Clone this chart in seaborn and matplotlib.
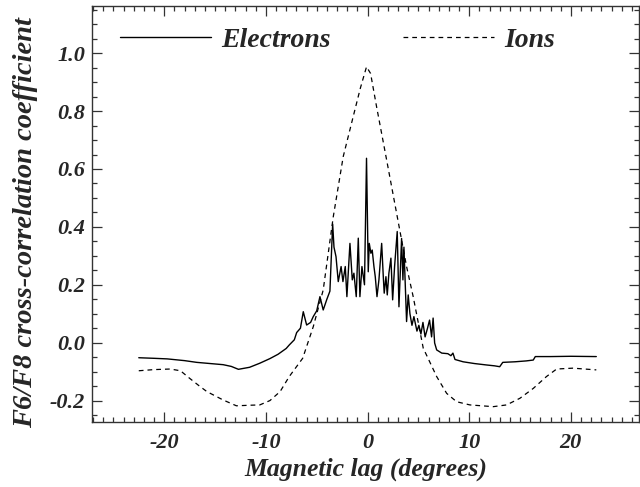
import matplotlib
matplotlib.use("Agg")
import matplotlib.pyplot as plt
import seaborn as sns
import pandas as pd
from matplotlib.ticker import MultipleLocator

# ---- data ----
elec_x = [
    -22.5, -21.0, -19.7, -18.0, -16.8, -15.5, -14.2, -13.4, -12.7, -11.6,
    -10.6, -9.6, -8.8, -8.0, -7.7, -7.2, -6.97, -6.6, -6.32, -5.99,
    -5.6, -5.34, -5.0, -4.68, -4.36, -4.0, -3.7, -3.43, -3.3, -3.1,
    -2.88, -2.6, -2.42, -2.19, -2.03, -1.73, -1.5, -1.34, -1.11, -0.91,
    -0.75, -0.55, -0.3, -0.1, 0.07, 0.17, 0.33, 0.46, 0.63, 0.76,
    0.93, 1.12, 1.39, 1.55, 1.64, 1.81, 1.94, 2.1, 2.3, 2.47,
    2.66, 2.92, 3.09, 3.35, 3.48, 3.58, 3.84, 4.0, 4.17, 4.37,
    4.56, 4.86, 5.05, 5.25, 5.45, 5.66, 5.9, 6.1, 6.3, 6.45,
    6.6, 6.8, 7.3, 7.9, 8.2, 8.4, 8.6, 9.4, 10.5, 11.7,
    12.5, 13.0, 13.3, 14.5, 15.6, 16.3, 16.5, 18.0, 20.0, 22.5]
elec_y = [
    -0.052, -0.054, -0.056, -0.062, -0.068, -0.072, -0.076, -0.082, -0.092, -0.085,
    -0.071, -0.055, -0.040, -0.020, -0.008, 0.010, 0.035, 0.050, 0.107, 0.061,
    0.070, 0.090, 0.110, 0.159, 0.113, 0.150, 0.178, 0.410, 0.330, 0.297,
    0.211, 0.263, 0.211, 0.263, 0.159, 0.343, 0.217, 0.240, 0.159, 0.361,
    0.159, 0.263, 0.200, 0.637, 0.245, 0.343, 0.309, 0.320, 0.263, 0.228,
    0.159, 0.217, 0.343, 0.228, 0.171, 0.228, 0.165, 0.240, 0.292, 0.148,
    0.263, 0.384, 0.124, 0.360, 0.217, 0.330, 0.073, 0.165, 0.100, 0.060,
    0.090, 0.040, 0.060, 0.030, 0.070, 0.020, 0.050, 0.078, 0.020, 0.085,
    -0.001, -0.025, -0.036, -0.038, -0.045, -0.036, -0.058, -0.066, -0.072, -0.077,
    -0.080, -0.083, -0.068, -0.066, -0.063, -0.060, -0.048, -0.048, -0.047, -0.048]

ion_x = [
    -22.5, -21.0, -19.4, -18.4, -17.5, -16.6, -15.8, -14.2, -12.9, -11.5,
    -10.6, -9.6, -8.6, -7.7, -6.38, -5.34, -4.36, -3.37, -2.39, -1.41,
    -0.7, -0.1, 0.3, 0.89, 1.88, 2.86, 3.84, 4.49, 5.48, 6.8,
    7.78, 8.76, 10.07, 12.36, 13.68, 14.99, 16.3, 17.6, 18.6, 20.2, 22.5]
ion_y = [
    -0.097, -0.093, -0.091, -0.097, -0.123, -0.148, -0.169, -0.198, -0.218, -0.216,
    -0.215, -0.200, -0.169, -0.117, -0.054, 0.055, 0.182, 0.435, 0.643, 0.781,
    0.880, 0.953, 0.930, 0.815, 0.631, 0.447, 0.263, 0.159, -0.019, -0.117,
    -0.175, -0.204, -0.215, -0.221, -0.215, -0.192, -0.158, -0.117, -0.091, -0.088, -0.094]

x_ticks = [-20, -10, 0, 10, 20]
y_ticks = [-0.2, 0.0, 0.2, 0.4, 0.6, 0.8, 1.0]
series_names = ["Electrons", "Ions"]

# ---- style ----
sns.set_style("ticks")
plt.rcParams["font.family"] = ["Liberation Serif", "DejaVu Serif"]
plt.rcParams["font.weight"] = "bold"
plt.rcParams["font.style"] = "italic"

fig = plt.figure(figsize=(6.4, 4.87), dpi=100)
ax = fig.add_axes([92 / 640, 1 - 422 / 487, (639 - 92) / 640, (422 - 6) / 487])

df_e = pd.DataFrame({"x": elec_x, "y": elec_y})
df_i = pd.DataFrame({"x": ion_x, "y": ion_y})
sns.lineplot(data=df_e, x="x", y="y", ax=ax, color="black", lw=1.0,
             estimator=None, sort=False, label=series_names[0])
sns.lineplot(data=df_i, x="x", y="y", ax=ax, color="black", lw=0.9,
             estimator=None, sort=False, label=series_names[1])
ax.lines[1].set_dashes([3.8, 3.2])

ax.set_xlim(-27.1, 26.7)
ax.set_ylim(-0.274, 1.163)
ax.set_xticks(x_ticks)
ax.set_yticks(y_ticks)
ax.set_xticklabels([f"{t:d}" for t in x_ticks])
ax.set_yticklabels([f"{t:.1f}" for t in y_ticks])
ax.xaxis.set_minor_locator(MultipleLocator(1))
ax.yaxis.set_minor_locator(MultipleLocator(0.05))
ax.tick_params(which="both", direction="in", top=True, right=True,
               labelsize=16, width=0.9, color="#333333")
ax.tick_params(which="major", length=7.2, pad=5)
ax.tick_params(which="minor", length=3.6)
ax.tick_params(axis="x", which="major", pad=8)
for s in ax.spines.values():
    s.set_linewidth(1.0)
    s.set_color("#333333")

ax.set_xlabel("Magnetic lag (degrees)", fontsize=18.5, fontweight="bold",
              fontstyle="italic", labelpad=3)
ax.set_ylabel("F6/F8 cross-correlation coefficient", fontsize=20.5,
              fontweight="bold", fontstyle="italic")
ax.yaxis.set_label_coords(-0.098, 0.48)

leg = ax.legend(loc="center left",
                bbox_to_anchor=((120 - 92) / (639 - 92), (422 - 40) / (422 - 6)),
                ncol=2, frameon=False, fontsize=20, handlelength=3.27,
                handletextpad=0.36, columnspacing=2.63, borderpad=0,
                borderaxespad=0)
for t in leg.get_texts():
    t.set_fontweight("bold")
    t.set_fontstyle("italic")

fig.savefig("out.png", dpi=100)
